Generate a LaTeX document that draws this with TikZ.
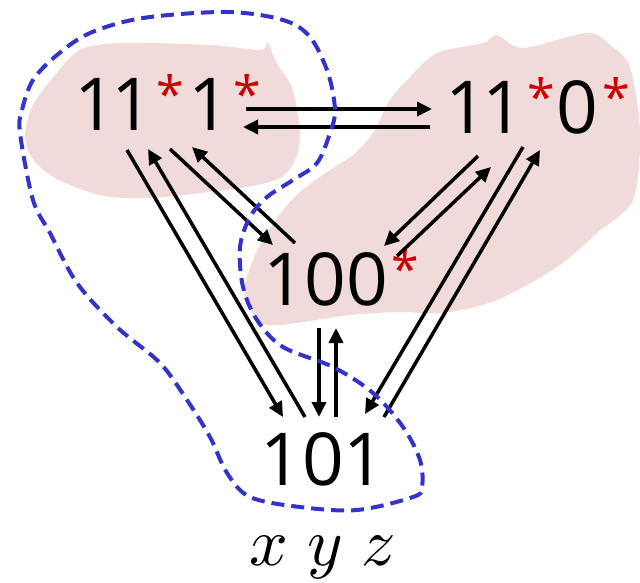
\documentclass[tikz,border=0pt]{standalone}
\usepackage{graphicx}
\usepackage{fontspec}
\setmainfont{Open Sans}
\usetikzlibrary{arrows.meta}
\definecolor{blobpink}{RGB}{240,218,218}
\definecolor{loopblue}{RGB}{51,51,204}
\definecolor{starred}{RGB}{204,0,0}
\newcommand{\rs}{\raisebox{18pt}{\fontsize{50}{50}\selectfont\color{starred}*}}
\tikzset{
  lbl/.style={inner sep=0pt, anchor=base, font=\fontsize{73}{73}\selectfont},
  arr/.style={line width=3.5pt, -{Triangle[length=15pt,width=14pt]}},
  blob/.style={fill=blobpink, draw=none},
  loop/.style={draw=loopblue, line width=4pt, dash pattern=on 13pt off 7pt},
}
\begin{document}
\begin{tikzpicture}[x=1pt,y=-1pt]
\useasboundingbox (0,0) rectangle (640,582);
% pink blobs
\fill[blob] plot[smooth cycle, tension=0.5] coordinates {(25,135) (33,105) (55,75) (80,50) (120,43) (210,45) (260,50) (268,43) (276,62) (292,88) (300,130) (296,158) (280,178) (240,188) (150,198) (100,195) (55,178) (32,158)};
\fill[blob] plot[smooth cycle, tension=0.5] coordinates {(390,100) (410,77) (437,53) (483,43) (497,35) (523,48) (587,33) (610,45) (630,67) (640,133) (633,200) (597,233) (557,267) (497,300) (443,313) (400,312) (350,315) (267,325) (247,300) (245,285) (255,255) (267,233) (283,210) (300,192) (327,172) (353,155) (373,133)};
% labels
\node[lbl] (n1) at (168,130) {1\kern-5pt 1\kern3pt\rs\kern5pt 1\kern3pt\rs};
\node[lbl] (n2) at (538,133) {1\kern-5pt 1\kern3pt\rs\kern2pt 0\kern4pt\rs};
\node[lbl] (n3) at (341,305) {100\kern3pt\rs};
\node[lbl] (n4) at (323,485) {101};
\node[inner sep=0pt, anchor=base] (xyz) at (323,565) {\scalebox{6.8}{$x\;y\;z$}};
% arrows
\draw[arr] ([shift={(78,-21)}]n1.base) -- ([shift={(-106,-24)}]n2.base);
\draw[arr] ([shift={(-108,-6)}]n2.base) -- ([shift={(75,-3)}]n1.base);
\draw[arr] ([shift={(-41,20)}]n1.base) -- ([shift={(-40,-68)}]n4.base);
\draw[arr] ([shift={(-18,-68)}]n4.base) -- ([shift={(-20,19)}]n1.base);
\draw[arr] ([shift={(2,19)}]n1.base) -- ([shift={(-68,-60)}]n3.base);
\draw[arr] ([shift={(-46,-62)}]n3.base) -- ([shift={(24,17)}]n1.base);
\draw[arr] ([shift={(-22,23)}]n3.base) -- ([shift={(-4,-68)}]n4.base);
\draw[arr] ([shift={(13,-68)}]n4.base) -- ([shift={(-5,23)}]n3.base);
\draw[arr] ([shift={(-15,14)}]n2.base) -- ([shift={(42,-71)}]n4.base);
\draw[arr] ([shift={(61,-68)}]n4.base) -- ([shift={(2,17)}]n2.base);
\draw[arr] ([shift={(-60,23)}]n2.base) -- ([shift={(43,-59)}]n3.base);
\draw[arr] ([shift={(56,-49)}]n3.base) -- ([shift={(-47,34)}]n2.base);
% dashed loop
\draw[loop] plot[smooth cycle, tension=0.55] coordinates {(20,133) (22,110) (33,80) (57,55) (90,33) (143,18) (227,12) (283,20) (310,37) (328,73) (335,110) (330,133) (317,163) (293,180) (267,197) (250,217) (240,247) (243,287) (257,320) (283,347) (333,367) (373,393) (403,427) (420,460) (422,487) (413,497) (357,510) (300,507) (250,497) (227,473) (210,437) (187,400) (160,363) (117,327) (77,283) (50,233) (33,200)};
\end{tikzpicture}
\end{document}
